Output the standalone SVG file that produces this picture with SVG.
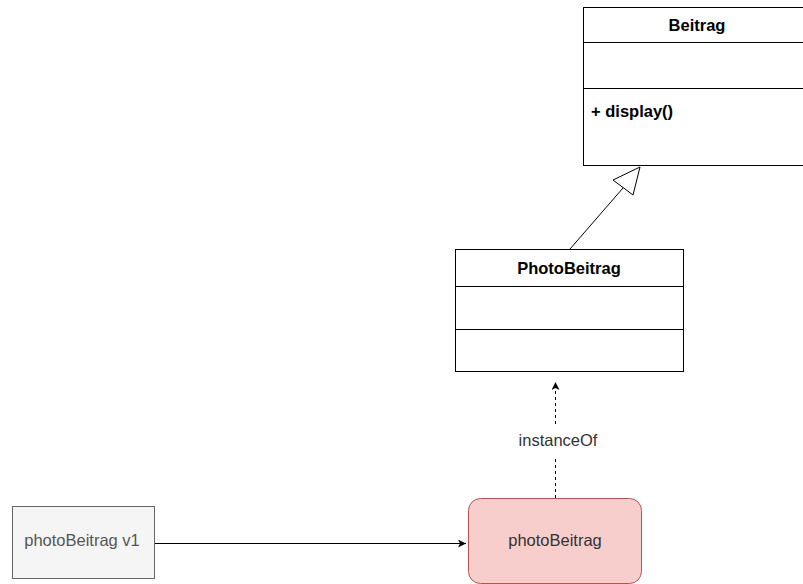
<svg xmlns="http://www.w3.org/2000/svg" width="803" height="584" viewBox="0 0 803 584">
<style>
.cls{fill:#ffffff;stroke:#000000;stroke-width:1}
.div{stroke:#000000;stroke-width:1;fill:none}
.t{font-family:"Liberation Sans",Arial,sans-serif;font-size:16.5px}
.b{font-weight:bold;fill:#000000}
</style>
<defs>
<marker id="arr" markerWidth="10" markerHeight="10" refX="8" refY="4" orient="auto" markerUnits="userSpaceOnUse">
<path d="M0,0 L8,4 L0,8 L2,4 Z" fill="#000000"/>
</marker>
</defs>
<rect width="803" height="584" fill="#ffffff"/>
<g id="connectors">
<line x1="570" y1="249" x2="623" y2="188" stroke="#000000" stroke-width="1"/>
<path d="M613,180 L640,167 L633,195 Z" fill="#ffffff" stroke="#000000" stroke-width="1"/>
<line x1="555.5" y1="498" x2="555.5" y2="458" stroke="#000000" stroke-width="1" stroke-dasharray="3,3"/>
<line x1="555.5" y1="424" x2="555.5" y2="382" stroke="#000000" stroke-width="1" stroke-dasharray="3,3" marker-end="url(#arr)"/>
<text class="t" x="558" y="446" text-anchor="middle" fill="#333333">instanceOf</text>
<line x1="155" y1="543.5" x2="466" y2="543.5" stroke="#000000" stroke-width="1" marker-end="url(#arr)"/>
</g>
<g id="Beitrag">
<rect class="cls" x="583.5" y="7.5" width="230" height="158"/>
<line class="div" x1="583.5" y1="42.5" x2="813" y2="42.5"/>
<line class="div" x1="583.5" y1="88.5" x2="813" y2="88.5"/>
<text class="t b" x="697" y="31" text-anchor="middle">Beitrag</text>
<text class="t b" x="591" y="117">+ display()</text>
</g>
<g id="PhotoBeitrag">
<rect class="cls" x="455.5" y="249.5" width="228" height="122"/>
<line class="div" x1="455.5" y1="286.5" x2="683.5" y2="286.5"/>
<line class="div" x1="455.5" y1="329.5" x2="683.5" y2="329.5"/>
<text class="t b" x="569" y="274" text-anchor="middle">PhotoBeitrag</text>
</g>
<g id="photoBeitrag">
<rect x="468.5" y="498.5" width="173" height="85" rx="12" fill="#f8cecc" stroke="#b85450" stroke-width="1"/>
<text class="t" x="555" y="546" text-anchor="middle" fill="#333333">photoBeitrag</text>
</g>
<g id="photoBeitrag_v1">
<rect x="12.5" y="506.5" width="142" height="72" fill="#f5f5f5" stroke="#666666" stroke-width="1"/>
<text class="t" x="82" y="546" text-anchor="middle" fill="#555555">photoBeitrag v1</text>
</g>
</svg>
